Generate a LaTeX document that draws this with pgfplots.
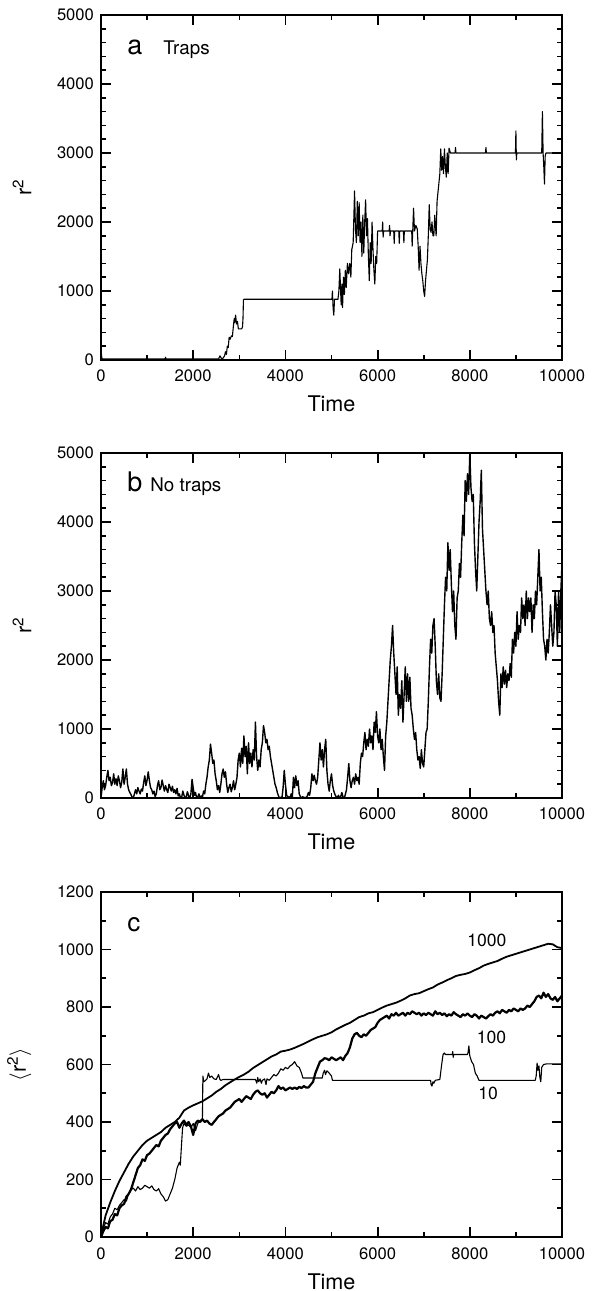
\documentclass[border=0pt]{standalone}
\usepackage{fontspec}
\setmainfont{TeX Gyre Heros}
\usepackage{pgfplots}
\pgfplotsset{compat=1.18}

\pgfplotsset{
  panel/.style={
    scale only axis, width=230.5pt, height=172.5pt,
    xmin=0, xmax=10000, xtick={0,2000,...,10000}, minor x tick num=1,
    xlabel={Time}, ymin=0,
    axis line style={line width=1pt},
    tick align=inside,
    major tick length=5pt, minor tick length=2.6pt,
    every tick/.style={line width=0.9pt, black},
    every minor tick/.style={line width=0.8pt, black},
    ticklabel style={font=\fontsize{8.3}{10}\selectfont},
    xticklabel style={anchor=base, yshift=-11pt},
    label style={font=\fontsize{10.8}{12}\selectfont},
    xlabel style={at={(axis description cs:0.5,0)}, anchor=base, yshift=-26pt},
    ylabel style={yshift=6pt},
    scaled ticks=false,
    /pgf/number format/assume math mode=true,
    /pgf/number format/set thousands separator={},
  },
}
\tikzset{
  trace/.style={black, line width=0.55pt, line join=round},
  tag/.style={anchor=base west, inner sep=0pt, font=\fontsize{13.5}{14}\selectfont},
  note/.style={anchor=base west, inner sep=0pt, font=\fontsize{9.4}{10}\selectfont},
}

\begin{document}
\begin{tikzpicture}
\path[use as bounding box] (-50.5pt,7.5pt) rectangle (246.5pt,-638pt);

% (a) with traps
\begin{axis}[panel, at={(0,0)}, anchor=north west,
  ymax=5000, ytick={0,1000,...,5000}, minor y tick num=4,
  ylabel={r\textsuperscript{2}}]
\addplot[trace] coordinates {
(0,0)(10,80)(20,20)(40,15)(300,15)(1390,15)(1400,40)(1410,15)(2550,15)(2580,60)(2600,40)
(2620,10)(2650,30)(2680,60)(2700,120)(2720,80)(2740,200)(2760,180)(2780,330)(2800,300)
(2830,350)(2850,340)(2870,480)(2890,600)(2900,540)(2920,650)(2940,520)(2960,560)(2980,450)
(3050,450)(3070,480)(3080,600)(3090,870)(3100,880)(5010,880)(5020,1000)(5035,750)(5050,650)
(5065,880)(5140,880)(5160,1000)(5180,1320)(5195,1050)(5210,800)(5225,1100)(5240,760)
(5260,1200)(5280,950)(5300,1300)(5320,1050)(5345,1400)(5370,1250)(5395,1400)(5420,1200)
(5440,1600)(5470,1700)(5500,2450)(5520,1900)(5540,1700)(5560,2300)(5580,1800)(5600,2280)
(5620,1700)(5640,2000)(5660,1500)(5680,2100)(5700,1550)(5720,2000)(5740,2320)(5760,1800)
(5780,2050)(5800,1500)(5820,1150)(5840,1700)(5860,1400)(5880,2000)(5900,1600)(5920,1300)
(5940,1100)(5960,1500)(5980,1400)(6000,1870)(6100,1870)(6110,2000)(6120,1780)(6130,1870)
(6250,1870)(6260,1950)(6270,1800)(6280,1870)(6350,1870)(6360,1690)(6370,1870)(6460,1870)
(6470,1690)(6480,1870)(6560,1870)(6570,1700)(6580,1870)(6740,1870)(6750,1650)(6780,2200)
(6800,1870)(6830,1950)(6860,1900)(6880,1650)(6900,1300)(6920,1650)(6940,1400)(6960,1250)
(6980,1150)(7000,1000)(7020,920)(7040,1150)(7060,1300)(7080,1450)(7100,1800)(7120,2250)
(7140,1900)(7160,1850)(7180,2000)(7200,1800)(7220,1800)(7240,2100)(7270,1800)(7290,2300)
(7320,2500)(7350,2700)(7370,3060)(7390,2750)(7410,2950)(7430,2700)(7450,3060)(7470,2800)
(7490,2650)(7510,3000)(7530,2700)(7550,3070)(7580,3000)(7680,3000)(7690,3080)(7700,3000)
(8340,3000)(8350,3080)(8360,3000)(8990,3000)(9000,3320)(9010,2900)(9020,3000)(9560,3000)
(9575,3600)(9590,3000)(9605,2800)(9620,2550)(9635,2950)(9650,3000)(10000,3000)
};
\node[tag] at (axis cs:564,4423) {a};
\node[note] at (axis cs:1345,4423) {Traps};
\end{axis}

% (b) no traps
\begin{axis}[panel, at={(0,-219pt)}, anchor=north west,
  ymax=5000, ytick={0,1000,...,5000}, minor y tick num=4,
  ylabel={r\textsuperscript{2}}]
\addplot[trace, line width=0.7pt] coordinates {
(0,0)(25,150)(50,250)(75,120)(100,180)(125,300)(150,400)(175,250)(200,300)(225,180)(250,220)
(275,350)(300,200)(325,280)(350,180)(375,320)(400,250)(425,150)(450,230)(475,420)(500,200)
(525,300)(550,420)(575,200)(600,120)(625,80)(650,50)(675,10)(700,0)(725,60)(750,120)(775,60)
(800,150)(825,100)(850,60)(875,130)(900,100)(925,220)(950,320)(975,180)(1000,260)(1025,380)
(1050,250)(1075,150)(1100,120)(1125,60)(1150,100)(1175,20)(1200,60)(1225,180)(1250,250)
(1275,120)(1300,150)(1325,260)(1350,180)(1375,100)(1400,180)(1425,120)(1450,80)(1475,200)
(1500,150)(1525,100)(1550,170)(1575,80)(1600,120)(1625,60)(1650,140)(1675,30)(1700,60)
(1725,0)(1750,10)(1775,100)(1800,40)(1825,0)(1850,20)(1875,90)(1900,30)(1925,0)(1950,60)
(1975,270)(2000,150)(2025,40)(2050,80)(2075,0)(2100,20)(2125,60)(2150,0)(2175,30)(2200,10)
(2225,100)(2250,60)(2275,200)(2300,300)(2325,450)(2350,550)(2375,780)(2400,650)(2425,500)
(2450,550)(2475,350)(2500,250)(2525,120)(2550,180)(2575,80)(2600,200)(2625,350)(2650,420)
(2675,300)(2700,380)(2725,200)(2750,80)(2775,150)(2800,200)(2825,90)(2850,150)(2875,250)
(2900,120)(2925,200)(2950,300)(2975,550)(3000,650)(3025,450)(3050,720)(3075,500)(3100,900)
(3125,600)(3150,750)(3175,350)(3200,800)(3225,500)(3250,650)(3275,450)(3300,700)(3325,550)
(3350,1100)(3375,600)(3400,400)(3425,550)(3450,450)(3475,700)(3500,800)(3525,1050)(3550,950)
(3575,800)(3600,850)(3625,700)(3650,750)(3675,600)(3700,500)(3725,400)(3750,300)(3775,200)
(3800,150)(3825,80)(3850,30)(3875,0)(3900,10)(3925,0)(3950,150)(3975,400)(4000,200)(4025,50)
(4050,0)(4075,20)(4100,0)(4125,60)(4150,10)(4175,300)(4200,150)(4225,320)(4250,180)(4275,250)
(4300,60)(4325,20)(4350,0)(4375,20)(4400,0)(4425,10)(4450,0)(4475,30)(4500,80)(4525,40)
(4550,150)(4575,350)(4600,250)(4625,330)(4650,250)(4675,200)(4700,300)(4725,550)(4750,800)
(4775,550)(4800,700)(4825,450)(4850,700)(4875,850)(4900,400)(4925,200)(4950,100)(4975,250)
(5000,350)(5025,180)(5050,100)(5075,50)(5100,20)(5125,0)(5150,40)(5175,0)(5200,20)(5225,80)
(5250,10)(5275,0)(5300,50)(5325,120)(5350,300)(5375,500)(5400,250)(5425,150)(5450,250)
(5475,300)(5500,200)(5525,350)(5550,250)(5575,300)(5600,200)(5625,500)(5650,650)(5675,600)
(5700,800)(5725,950)(5750,700)(5775,850)(5800,750)(5825,1000)(5850,800)(5875,900)(5900,700)
(5925,1100)(5950,950)(5975,1250)(6000,900)(6025,800)(6050,1000)(6075,700)(6100,850)
(6125,600)(6150,400)(6175,900)(6200,1100)(6225,1400)(6250,1700)(6275,2000)(6300,2200)
(6325,2500)(6350,2100)(6375,1800)(6400,1500)(6425,1900)(6450,1200)(6475,1500)(6500,1300)
(6525,1700)(6550,1100)(6575,1500)(6600,1900)(6625,1400)(6650,1800)(6675,1400)(6700,1750)
(6725,1300)(6750,1200)(6775,1000)(6800,850)(6825,950)(6850,700)(6875,550)(6900,600)
(6925,430)(6950,700)(6975,500)(7000,450)(7025,700)(7050,950)(7075,1000)(7100,1400)
(7125,1900)(7150,2300)(7175,2100)(7200,2500)(7225,2600)(7250,2200)(7275,1700)(7300,1500)
(7325,1800)(7350,1450)(7375,1400)(7400,1800)(7425,2300)(7450,2800)(7475,3200)(7500,3000)
(7525,3700)(7550,3300)(7575,3600)(7600,3100)(7625,2700)(7650,3000)(7675,2500)(7700,2300)
(7725,2900)(7750,3000)(7775,3400)(7800,3200)(7825,3700)(7850,4100)(7875,3800)(7900,4600)
(7925,4300)(7950,4700)(7975,4400)(8000,5000)(8025,4500)(8050,4300)(8075,4400)(8100,3700)
(8125,3300)(8150,3000)(8175,3500)(8200,4000)(8225,4300)(8250,4750)(8275,3900)(8300,3600)
(8325,3300)(8350,3000)(8375,2800)(8400,3000)(8425,2600)(8450,2500)(8475,2700)(8500,2400)
(8525,2500)(8550,2100)(8575,1900)(8600,1700)(8625,1400)(8650,1200)(8675,1800)(8700,1600)
(8725,1900)(8750,1650)(8775,1850)(8800,1600)(8825,1800)(8850,1700)(8875,1950)(8900,1750)
(8925,2300)(8950,2100)(8975,2400)(9000,2200)(9025,2700)(9050,2300)(9075,2500)(9100,2400)
(9125,2900)(9150,2600)(9175,2800)(9200,2500)(9225,3000)(9250,2600)(9275,2900)(9300,2700)
(9325,2900)(9350,2400)(9375,2800)(9400,2600)(9425,3000)(9450,2800)(9475,3200)(9500,3600)
(9525,3000)(9550,3200)(9575,2700)(9600,2300)(9625,2200)(9650,2000)(9675,2300)(9700,2100)
(9725,2400)(9750,2800)(9775,2500)(9800,2200)(9825,2400)(9850,3000)(9875,2800)(9900,2200)
(9925,3000)(9950,2400)(9975,3000)(10000,3400)
};
\node[tag] at (axis cs:564,4435) {b};
\node[note] at (axis cs:1063,4435) {No traps};
\end{axis}

% (c) averages over 10, 100 and 1000 walks
\begin{axis}[panel, at={(0,-438.5pt)}, anchor=north west,
  ymax=1200, ytick={0,200,...,1200}, minor y tick num=1,
  ylabel={$\langle$r\textsuperscript{2}$\rangle$}]
% 1000
\addplot[black, line width=0.9pt] coordinates {
(0,0)(50,40)(100,75)(200,120)(300,160)(400,195)(500,225)(600,255)(700,280)(800,300)
(900,320)(1000,335)(1100,345)(1200,355)(1300,365)(1400,380)(1500,390)(1600,400)(1700,415)
(1800,440)(1900,450)(2000,458)(2100,465)(2200,472)(2300,482)(2400,492)(2500,505)(2600,515)
(2700,528)(2800,538)(2900,548)(3000,557)(3100,565)(3200,575)(3300,588)(3400,598)(3500,608)
(3600,618)(3700,628)(3800,635)(3900,645)(4000,648)(4100,652)(4200,658)(4300,665)(4400,672)
(4500,680)(4600,688)(4700,695)(4800,700)(4900,705)(5000,712)(5100,722)(5200,730)(5300,738)
(5400,745)(5500,755)(5600,765)(5700,770)(5800,778)(5900,782)(6000,790)(6100,798)(6200,805)
(6300,810)(6400,815)(6500,822)(6600,830)(6700,840)(6800,845)(6900,848)(7000,855)(7100,862)
(7200,868)(7300,878)(7400,885)(7500,893)(7600,900)(7700,908)(7800,912)(7900,915)(8000,920)
(8100,928)(8200,935)(8300,944)(8400,950)(8500,955)(8600,960)(8700,968)(8800,975)(8900,980)
(9000,985)(9100,990)(9200,995)(9300,1000)(9400,1005)(9500,1010)(9600,1015)(9700,1020)
(9800,1018)(9900,1008)(10000,1005)
};
% 100
\addplot[black, line width=1.1pt, line join=round] coordinates {
(0,0)(50,20)(100,35)(150,30)(200,55)(250,60)(300,80)(350,75)(400,100)(450,110)(500,115)
(550,140)(600,150)(650,165)(700,190)(750,215)(800,240)(850,250)(900,270)(950,265)(1000,285)
(1050,290)(1100,300)(1150,310)(1200,320)(1250,315)(1300,335)(1350,345)(1400,355)(1450,360)
(1500,375)(1550,385)(1600,395)(1650,400)(1700,380)(1750,395)(1800,405)(1850,390)(1900,400)
(1950,385)(2000,355)(2050,395)(2100,405)(2150,400)(2200,410)(2250,400)(2300,405)(2350,395)
(2400,390)(2450,400)(2500,410)(2550,420)(2600,425)(2650,430)(2700,440)(2750,445)(2800,450)
(2850,460)(2900,470)(2950,475)(3000,480)(3050,470)(3100,480)(3150,490)(3200,485)(3250,480)
(3300,495)(3350,505)(3400,510)(3450,500)(3500,495)(3550,500)(3600,485)(3650,495)(3700,505)
(3750,500)(3800,510)(3850,525)(3900,515)(3950,520)(4000,510)(4050,515)(4100,520)(4150,515)
(4200,520)(4250,515)(4300,522)(4350,518)(4400,525)(4450,520)(4500,520)(4550,530)(4600,540)
(4650,570)(4700,590)(4750,610)(4800,615)(4850,622)(4900,620)(4950,615)(5000,625)(5050,620)
(5100,615)(5150,620)(5200,625)(5250,615)(5300,630)(5350,640)(5400,660)(5450,690)(5500,705)
(5550,710)(5600,700)(5650,695)(5700,705)(5750,700)(5800,710)(5850,720)(5900,725)(5950,730)
(6000,745)(6050,755)(6100,760)(6150,765)(6200,770)(6250,760)(6300,775)(6350,770)(6400,780)
(6450,770)(6500,775)(6550,780)(6600,770)(6650,780)(6700,775)(6750,785)(6800,780)(6850,775)
(6900,780)(6950,770)(7000,778)(7050,772)(7100,780)(7150,775)(7200,770)(7250,785)(7300,775)
(7350,780)(7400,772)(7450,778)(7500,768)(7550,775)(7600,770)(7650,782)(7700,775)(7750,770)
(7800,765)(7850,775)(7900,770)(7950,778)(8000,770)(8050,765)(8100,775)(8150,770)(8200,760)
(8250,770)(8300,765)(8350,760)(8400,768)(8450,775)(8500,770)(8550,780)(8600,785)(8650,778)
(8700,790)(8750,785)(8800,780)(8850,790)(8900,785)(8950,795)(9000,790)(9050,785)(9100,795)
(9150,790)(9200,795)(9250,805)(9300,800)(9350,810)(9400,820)(9450,835)(9500,840)(9550,830)
(9600,850)(9650,835)(9700,845)(9750,830)(9800,825)(9850,835)(9900,820)(9950,830)(10000,840)
};
% 10
\addplot[trace] coordinates {
(0,0)(50,30)(100,50)(150,45)(200,70)(250,80)(300,100)(350,95)(400,110)(450,120)(500,130)
(550,125)(600,150)(650,165)(700,170)(750,160)(800,175)(850,165)(900,170)(950,180)(1000,175)
(1050,170)(1100,178)(1150,165)(1200,160)(1250,168)(1300,150)(1350,140)(1400,125)(1450,130)
(1500,150)(1550,170)(1600,200)(1650,240)(1700,260)(1720,250)(1750,330)(1770,380)(1800,395)
(1850,385)(1900,390)(1950,380)(2000,395)(2050,370)(2100,395)(2150,405)(2200,410)(2210,560)
(2230,540)(2270,545)(2300,550)(2330,570)(2360,555)(2400,560)(2450,550)(2500,548)(2550,565)
(2580,548)(2600,545)(2650,548)(3350,548)(3380,535)(3400,555)(3420,540)(3450,550)(3480,535)
(3500,545)(3550,550)(3580,530)(3600,550)(3650,545)(3700,555)(3750,565)(3800,560)(3850,570)
(3900,585)(3950,580)(4000,590)(4050,585)(4100,595)(4150,600)(4200,610)(4250,595)(4300,590)
(4350,570)(4380,553)(4800,553)(4820,570)(4850,580)(4870,565)(4900,578)(4950,570)(5000,560)
(5020,545)(7150,545)(7160,530)(7180,525)(7200,540)(7220,535)(7250,545)(7350,548)(7390,600)
(7420,635)(7450,640)(7470,635)(7620,635)(7630,645)(7640,625)(7650,635)(7950,635)(7960,640)
(7980,665)(8000,630)(8040,610)(8080,600)(8120,570)(8160,560)(8200,545)(9420,545)(9440,560)
(9460,605)(9480,580)(9500,595)(9520,555)(9540,540)(9560,590)(9600,600)(9660,602)(10000,602)
};
\node[tag, font=\fontsize{13}{13}\selectfont] at (axis cs:564,1063) {c};
\node[font=\fontsize{8.8}{10}\selectfont] at (axis cs:8370,1032) {1000};
\node[font=\fontsize{8.8}{10}\selectfont] at (axis cs:8470,695) {100};
\node[font=\fontsize{8.8}{10}\selectfont] at (axis cs:8400,499) {10};
\end{axis}
\end{tikzpicture}
\end{document}
